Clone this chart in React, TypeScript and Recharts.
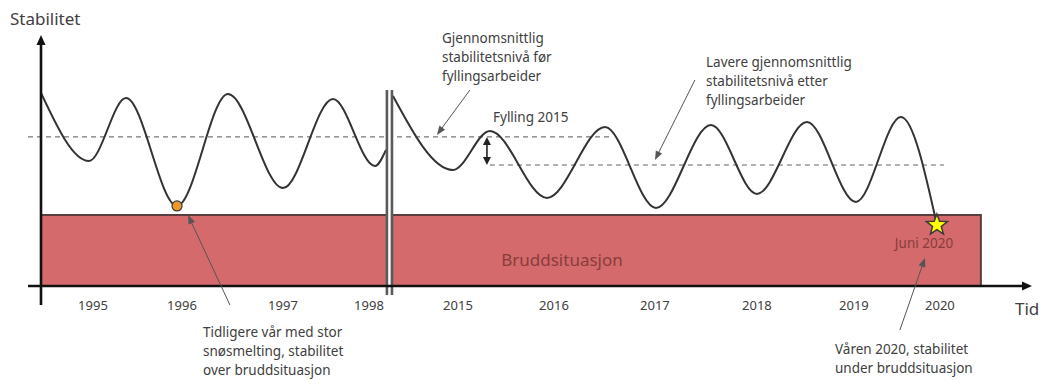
import React from "react";
import {
  ComposedChart,
  Line,
  XAxis,
  YAxis,
  ReferenceLine,
  ReferenceArea,
  ReferenceDot,
} from "recharts";

// Time positions are in "year slots" along the schematic time axis; stability in relative units (0-10).
const tickPositions = [0.556, 1.508, 2.588, 3.508, 4.46, 5.487, 6.567, 7.658, 8.695, 9.615];
const yearLabels = ["1995", "1996", "1997", "1998", "2015", "2016", "2017", "2018", "2019", "2020"];

const stabilityBefore = [
  { t: 0, s: 7.69 },
  { t: 0.513, s: 4.98 },
  { t: 0.909, s: 7.49 },
  { t: 1.455, s: 3.19 },
  { t: 2.0, s: 7.65 },
  { t: 2.588, s: 3.9 },
  { t: 3.123, s: 7.45 },
  { t: 3.572, s: 4.78 },
  { t: 3.69, s: 5.42 },
];

const stabilityAfter = [
  { t: 3.765, s: 7.57 },
  { t: 4.406, s: 4.62 },
  { t: 4.802, s: 6.18 },
  { t: 5.412, s: 3.51 },
  { t: 6.032, s: 6.33 },
  { t: 6.578, s: 3.11 },
  { t: 7.166, s: 6.41 },
  { t: 7.658, s: 3.67 },
  { t: 8.193, s: 6.53 },
  { t: 8.717, s: 3.35 },
  { t: 9.198, s: 6.73 },
  { t: 9.583, s: 2.43 },
];

const avgBefore = { level: 5.94, from: -0.139, to: 6.086 };
const avgAfter = { level: 4.82, from: 4.802, to: 9.658 };
const fillingDrop = { t: 4.77, from: 5.94, to: 4.82 };
const failureZone = { from: 0, to: 10.053, top: 2.83 };
const axisBreak = [3.7, 3.754];
const breakSpan = [-0.36, 7.81];
const earlierSpring = { t: 1.455, s: 3.19 };
const june2020 = { t: 9.583, s: 2.43 };

const annotationArrows = [
  { from: { x: 2.021, y: -0.757 }, to: { x: 1.572, y: 2.83 } },
  { from: { x: 4.588, y: 7.81 }, to: { x: 4.235, y: 6.02 } },
  { from: { x: 6.995, y: 8.21 }, to: { x: 6.567, y: 5.02 } },
  { from: { x: 9.187, y: -1.753 }, to: { x: 9.455, y: 1.116 } },
];

const FONT = "'Noto Sans', 'Open Sans', sans-serif";
const TEXT = "#404040";

const makeArrow =
  (color: string, width: number, headLen: number, headW: number, both: boolean, tail = true) =>
  (props: any) => {
    const x1 = Number(props.x1);
    const y1 = Number(props.y1);
    const x2 = Number(props.x2);
    const y2 = Number(props.y2);
    const dx = x2 - x1;
    const dy = y2 - y1;
    const len = Math.sqrt(dx * dx + dy * dy) || 1;
    const ux = dx / len;
    const uy = dy / len;
    const px = -uy;
    const py = ux;
    const head = (tx: number, ty: number, dirx: number, diry: number) => {
      const bx = tx - dirx * headLen;
      const by = ty - diry * headLen;
      return `${tx},${ty} ${bx + px * headW},${by + py * headW} ${bx - px * headW},${by - py * headW}`;
    };
    const sx = both ? x1 + ux * headLen * 0.8 : x1;
    const sy = both ? y1 + uy * headLen * 0.8 : y1;
    const ex = x2 - ux * headLen * 0.8;
    const ey = y2 - uy * headLen * 0.8;
    return (
      <g>
        {tail && <line x1={sx} y1={sy} x2={ex} y2={ey} stroke={color} strokeWidth={width} />}
        <polygon points={head(x2, y2, ux, uy)} fill={color} />
        {both && <polygon points={head(x1, y1, -ux, -uy)} fill={color} />}
      </g>
    );
  };

const axisArrow = makeArrow("#111", 2.6, 10, 4.5, false);
const noteArrow = makeArrow("#555", 1, 9, 3.5, false);
const doubleArrow = makeArrow("#222", 1.6, 8, 4, true);

const starShape = (props: any) => {
  const cx = Number(props.cx);
  const cy = Number(props.cy);
  const pts: string[] = [];
  for (let i = 0; i < 10; i++) {
    const r = i % 2 === 0 ? 11 : 4.6;
    const a = -Math.PI / 2 + (i * Math.PI) / 5;
    pts.push(`${cx + r * Math.cos(a)},${cy + r * Math.sin(a)}`);
  }
  return <polygon points={pts.join(" ")} fill="#ffff00" stroke="#3a3a3a" strokeWidth={1.5} />;
};

const YearTick = (props: any) => {
  const { x, y, payload } = props;
  const i = tickPositions.indexOf(payload.value);
  return (
    <text x={x} y={Number(y) + 16} textAnchor="middle" fontSize={13} fill={TEXT} fontFamily={FONT}>
      {i >= 0 ? yearLabels[i] : ""}
    </text>
  );
};

const MultiText = ({ x, y, lines, size = 13.5, color = TEXT, lh = 19 }: any) => (
  <text x={x} y={y} fontSize={size} fill={color} fontFamily={FONT}>
    {lines.map((l: string, i: number) => (
      <tspan key={i} x={x} dy={i === 0 ? 0 : lh}>
        {l}
      </tspan>
    ))}
  </text>
);

export default function App() {
  return (
    <div style={{ position: "absolute", left: 0, top: 0, width: 1049, height: 388, background: "#ffffff" }}>
      <ComposedChart
        width={1049}
        height={388}
        margin={{ top: 35, right: 17, bottom: 72, left: 41 }}
      >
        <XAxis
          type="number"
          dataKey="t"
          domain={[0, 10.6]}
          ticks={tickPositions}
          tick={<YearTick />}
          axisLine={false}
          tickLine={false}
          allowDataOverflow
          height={30}
        />
        <YAxis type="number" dataKey="s" domain={[0, 10]} hide allowDataOverflow />

        <ReferenceArea
          x1={failureZone.from}
          x2={failureZone.to}
          y1={0}
          y2={failureZone.top}
          fill="#d46a6b"
          fillOpacity={1}
          stroke="#5a3d3d"
          strokeWidth={2}
          ifOverflow="visible"
        />

        <ReferenceLine
          segment={[{ x: avgBefore.from, y: avgBefore.level }, { x: avgBefore.to, y: avgBefore.level }]}
          stroke="#555"
          strokeDasharray="5 4"
          strokeWidth={1}
          ifOverflow="visible"
        />
        <ReferenceLine
          segment={[{ x: avgAfter.from, y: avgAfter.level }, { x: avgAfter.to, y: avgAfter.level }]}
          stroke="#666"
          strokeDasharray="5 4"
          strokeWidth={1}
          ifOverflow="visible"
        />

        <Line
          data={stabilityBefore}
          dataKey="s"
          type="monotone"
          stroke="#333"
          strokeWidth={2}
          dot={false}
          isAnimationActive={false}
        />
        <Line
          data={stabilityAfter}
          dataKey="s"
          type="monotone"
          stroke="#333"
          strokeWidth={2}
          dot={false}
          isAnimationActive={false}
        />

        <ReferenceLine
          segment={[{ x: (axisBreak[0] + axisBreak[1]) / 2, y: breakSpan[0] }, { x: (axisBreak[0] + axisBreak[1]) / 2, y: breakSpan[1] }]}
          stroke="#ffffff"
          strokeWidth={3}
          ifOverflow="visible"
        />
        {axisBreak.map((b) => (
          <ReferenceLine
            key={b}
            segment={[{ x: b, y: breakSpan[0] }, { x: b, y: breakSpan[1] }]}
            stroke="#5a5a5a"
            strokeWidth={2.6}
            ifOverflow="visible"
          />
        ))}

        {/* axes */}
        <ReferenceLine
          segment={[{ x: 0, y: -0.757 }, { x: 0, y: 10 }]}
          shape={axisArrow}
          ifOverflow="visible"
        />
        <ReferenceLine
          segment={[{ x: -0.139, y: 0 }, { x: 10.6, y: 0 }]}
          shape={axisArrow}
          ifOverflow="visible"
        />

        <ReferenceLine
          segment={[{ x: fillingDrop.t, y: fillingDrop.from }, { x: fillingDrop.t, y: fillingDrop.to }]}
          shape={doubleArrow}
          ifOverflow="visible"
        />

        {annotationArrows.map((a, i) => (
          <ReferenceLine key={i} segment={[a.from, a.to]} shape={noteArrow} ifOverflow="visible" />
        ))}

        <ReferenceDot
          x={earlierSpring.t}
          y={earlierSpring.s}
          r={5}
          fill="#f0982c"
          stroke="#3a3a3a"
          strokeWidth={1.2}
          ifOverflow="visible"
        />
        <ReferenceDot x={june2020.t} y={june2020.s} r={10} shape={starShape} ifOverflow="visible" />
      </ComposedChart>

      <svg
        width={1049}
        height={388}
        style={{ position: "absolute", left: 0, top: 0, pointerEvents: "none" }}
      >
        <text x={10} y={25} fontSize={17} fill={TEXT} fontFamily={FONT}>
          Stabilitet
        </text>
        <text x={1015} y={315} fontSize={17} fill={TEXT} fontFamily={FONT}>
          Tid
        </text>
        <MultiText x={442} y={43} lines={["Gjennomsnittlig", "stabilitetsnivå før", "fyllingsarbeider"]} />
        <MultiText
          x={706}
          y={67}
          lines={["Lavere gjennomsnittlig", "stabilitetsnivå etter", "fyllingsarbeider"]}
        />
        <MultiText x={493} y={122} lines={["Fylling 2015"]} />
        <MultiText
          x={203}
          y={337}
          lines={["Tidligere vår med stor", "snøsmelting, stabilitet", "over bruddsituasjon"]}
        />
        <MultiText x={835} y={354} lines={["Våren 2020, stabilitet", "under bruddsituasjon"]} />
        <text x={924} y={248} fontSize={13.5} fill="#8a3c3c" textAnchor="middle" fontFamily={FONT}>
          Juni 2020
        </text>
        <text x={562} y={266} fontSize={17} fill="#8a3c3c" textAnchor="middle" fontFamily={FONT}>
          Bruddsituasjon
        </text>
      </svg>
    </div>
  );
}
